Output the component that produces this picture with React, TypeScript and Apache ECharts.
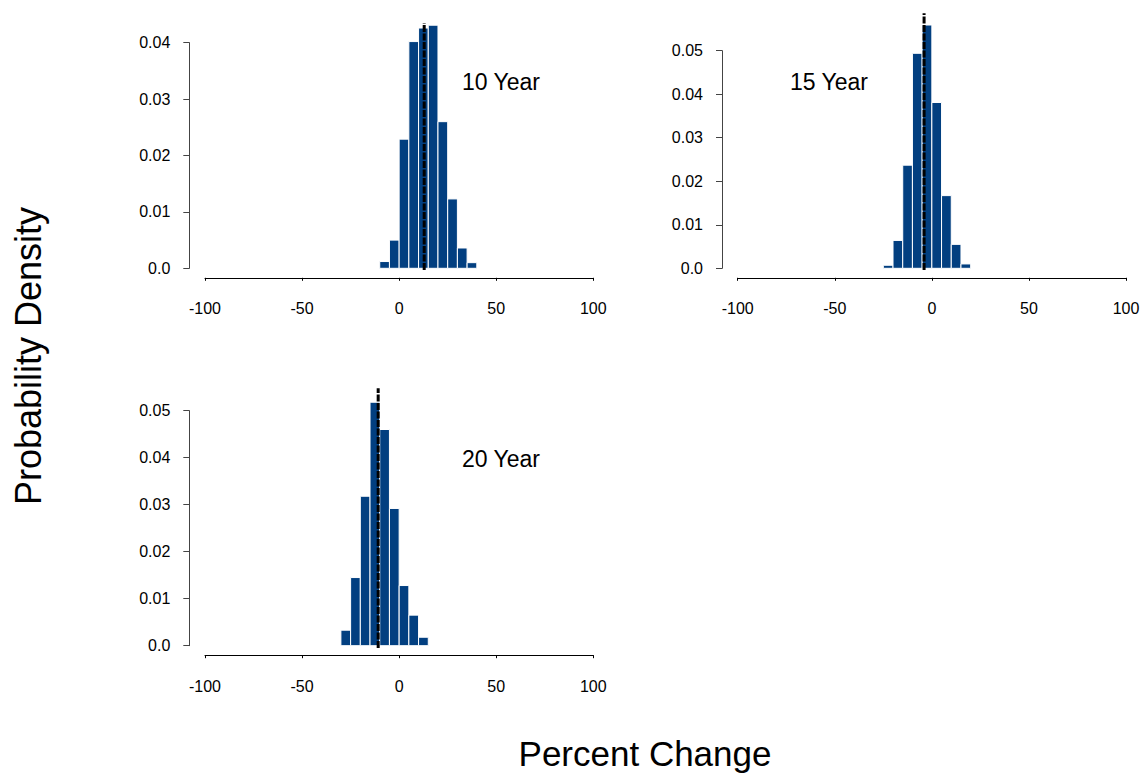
import React, { useEffect, useRef } from "react";
import * as echarts from "echarts";

// ---- data ----
const binWidth = 5;
const panelTitles = ["10 Year", "15 Year", "20 Year"];

const bins10 = [-10, -5, 0, 5, 10, 15, 20, 25, 30, 35];
const dens10 = [0.0012, 0.005, 0.0229, 0.0402, 0.0426, 0.0431, 0.026, 0.0123, 0.0036, 0.001];

const bins15 = [-25, -20, -15, -10, -5, 0, 5, 10, 15];
const dens15 = [0.0007, 0.0064, 0.0237, 0.0494, 0.0559, 0.0381, 0.0167, 0.0055, 0.001];

const bins20 = [-30, -25, -20, -15, -10, -5, 0, 5, 10];
const dens20 = [0.0033, 0.0145, 0.0318, 0.0518, 0.046, 0.0292, 0.0128, 0.0065, 0.0018];

const meanValues = [12.9, -4.0, -10.8];
const meanLineTop = [0.0435, 0.0586, 0.0548];
const meanLineBottom = [-0.0003, -0.0004, -0.0005];

const yMaxTicks = [0.04, 0.05, 0.05];
const xMin = -100;
const xMax = 100;
const xInterval = 50;
const yInterval = 0.01;

const xAxisTitle = "Percent Change";
const yAxisTitle = "Probability Density";

const FONT = "'Liberation Sans', Arial, Helvetica, sans-serif";
const BAR_COLOR = "#023f80";

export default function App() {
  const ref = useRef<HTMLDivElement>(null);

  useEffect(() => {
    document.body.style.margin = "0";
    if (!ref.current) return;
    const chart = echarts.init(ref.current, undefined, { renderer: "svg" });

    const binsAll = [bins10, bins15, bins20];
    const densAll = [dens10, dens15, dens20];

    // layout of the three panels (pixels)
    const grids = [
      { left: 205, top: 42.7, width: 388.3, height: 225.6 },
      { left: 737.7, top: 50.7, width: 388.3, height: 217.6 },
      { left: 205, top: 410.7, width: 388.3, height: 235 },
    ];
    const titlePos = [
      [501, 82],
      [829, 82],
      [501, 459],
    ];

    const xAxes = grids.map((_, i) => ({
      type: "value",
      gridIndex: i,
      min: xMin,
      max: xMax,
      interval: xInterval,
      offset: 9.5,
      splitLine: { show: false },
      axisLine: { show: true, onZero: false, lineStyle: { color: "#000", width: 1 } },
      axisTick: { show: true, length: 3, lineStyle: { color: "#000" } },
      axisLabel: {
        color: "#000",
        fontSize: 16,
        fontFamily: FONT,
        margin: 23,
        showMinLabel: true,
        showMaxLabel: true,
      },
    }));

    const yAxes = grids.map((_, i) => ({
      type: "value",
      gridIndex: i,
      min: 0,
      max: yMaxTicks[i],
      interval: yInterval,
      offset: 15.7,
      splitLine: { show: false },
      axisLine: { show: true, onZero: false, lineStyle: { color: "#444", width: 1 } },
      axisTick: { show: true, length: 6, lineStyle: { color: "#444" } },
      axisLabel: {
        color: "#000",
        fontSize: 16,
        fontFamily: FONT,
        margin: 19,
        formatter: (v: number) => (v === 0 ? "0.0" : v.toFixed(2)),
      },
    }));

    const histSeries = binsAll.map((bins, i) => ({
      type: "custom",
      xAxisIndex: i,
      yAxisIndex: i,
      clip: false,
      encode: { x: 0, y: 1 },
      data: bins.map((b, k) => [b, densAll[i][k]]),
      renderItem: (params: any, api: any) => {
        const x0 = api.value(0);
        const y = api.value(1);
        const p0 = api.coord([x0, y]);
        const p1 = api.coord([x0 + binWidth, 0]);
        return {
          type: "rect",
          shape: {
            x: p0[0],
            y: p0[1],
            width: p1[0] - p0[0],
            height: p1[1] - p0[1],
          },
          style: { fill: BAR_COLOR, stroke: "#ffffff", lineWidth: 1 },
        };
      },
    }));

    const meanSeries = meanValues.map((m, i) => ({
      type: "line",
      xAxisIndex: i,
      yAxisIndex: i,
      clip: false,
      symbol: "none",
      data: [
        [m, meanLineBottom[i]],
        [m, meanLineTop[i]],
      ],
      lineStyle: { color: "#000", width: 3, type: [7, 1.5] },
      z: 5,
    }));

    const graphics: any[] = panelTitles.map((t, i) => ({
      type: "text",
      x: titlePos[i][0],
      y: titlePos[i][1],
      style: {
        text: t,
        fill: "#000",
        font: `23px ${FONT}`,
        textAlign: "center",
        textVerticalAlign: "middle",
      },
    }));
    graphics.push({
      type: "text",
      x: 645,
      y: 753,
      style: {
        text: xAxisTitle,
        fill: "#000",
        font: `35px ${FONT}`,
        textAlign: "center",
        textVerticalAlign: "middle",
      },
    });
    graphics.push({
      type: "text",
      x: 28,
      y: 356,
      rotation: Math.PI / 2,
      style: {
        text: yAxisTitle,
        fill: "#000",
        font: `36px ${FONT}`,
        textAlign: "center",
        textVerticalAlign: "middle",
      },
    });

    chart.setOption({
      animation: false,
      backgroundColor: "#ffffff",
      grid: grids.map((g) => ({ ...g, containLabel: false })),
      xAxis: xAxes,
      yAxis: yAxes,
      series: [...histSeries, ...meanSeries],
      graphic: graphics,
    });

    return () => {
      chart.dispose();
    };
  }, []);

  return <div ref={ref} style={{ width: 1144, height: 775 }} />;
}
